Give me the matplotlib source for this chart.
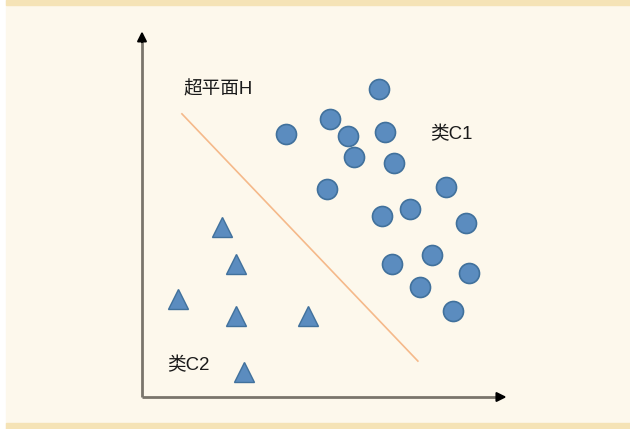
import matplotlib
matplotlib.use("Agg")
from matplotlib import pyplot as plt
from matplotlib.patches import Rectangle

plt.rcParams['font.family'] = ['Liberation Sans', 'Noto Sans CJK SC', 'DejaVu Sans']

# class C1 (circles)
c1_x = [6.53, 5.18, 5.67, 6.69, 3.97, 5.84, 6.94, 5.10, 8.37, 6.61, 7.38, 8.93, 6.89, 7.99, 9.01, 7.66, 8.57]
c1_y = [8.48, 7.66, 7.19, 7.30, 7.25, 6.61, 6.45, 5.73, 5.79, 4.99, 5.18, 4.79, 3.66, 3.91, 3.42, 3.03, 2.37]

# class C2 (triangles)
c2_x = [2.20, 2.59, 0.99, 2.59, 4.57, 2.81]
c2_y = [4.68, 3.66, 2.70, 2.23, 2.23, 0.69]

# hyperplane H
h_x = [1.10, 7.60]
h_y = [7.80, 0.99]

fig = plt.figure(figsize=(6.3, 4.29), dpi=100, facecolor='white')

# page background bands
fig.patches.append(Rectangle((6/630, 0), 1, 1, transform=fig.transFigure, color='#fdf8ec', zorder=-10))
fig.patches.append(Rectangle((6/630, 1 - 4.5/429), 1, 4.5/429, transform=fig.transFigure, color='#f5e3b6', zorder=-10))
fig.patches.append(Rectangle((6/630, 0), 1, 6/429, transform=fig.transFigure, color='#f5e3b6', zorder=-10))

# axes origin at pixel (142, 397), 36.3 px per unit
s = 36.3
ax = fig.add_axes([0, 0, 1, 1])
ax.set_xlim(-142/s, (630-142)/s)
ax.set_ylim(-(429-397)/s, 397/s)
ax.axis('off')

# coordinate axes with arrows
ax.plot([0, 9.9], [0, 0], color='#7a756c', lw=2, solid_capstyle='butt', zorder=1)
ax.plot([0, 0], [0, 9.9], color='#7a756c', lw=2, solid_capstyle='butt', zorder=1)
ax.annotate('', xy=(10.12, 0), xytext=(9.7, 0),
            arrowprops=dict(arrowstyle='-|>', color='black', lw=1.5, mutation_scale=14))
ax.annotate('', xy=(0, 10.15), xytext=(0, 9.7),
            arrowprops=dict(arrowstyle='-|>', color='black', lw=1.5, mutation_scale=14))

ax.plot(h_x, h_y, color='#f5b98a', lw=1.2, zorder=2)

ax.plot(c1_x, c1_y, 'o', ms=14.4, mfc='#5b8cbf', mec='#41719c', mew=1.2, zorder=3)
ax.plot(c2_x, c2_y, '^', ms=15, mfc='#5b8cbf', mec='#41719c', mew=1.0, zorder=3)

ax.text(1.13, 8.47, '超平面H', fontsize=13.4, color='#1a1a1a', va='center', ha='left')
ax.text(7.93, 7.22, '类C1', fontsize=13.4, color='#1a1a1a', va='center', ha='left')
ax.text(0.69, 0.88, '类C2', fontsize=13.4, color='#1a1a1a', va='center', ha='left')

fig.savefig('out.png', dpi=100, facecolor=fig.get_facecolor())
